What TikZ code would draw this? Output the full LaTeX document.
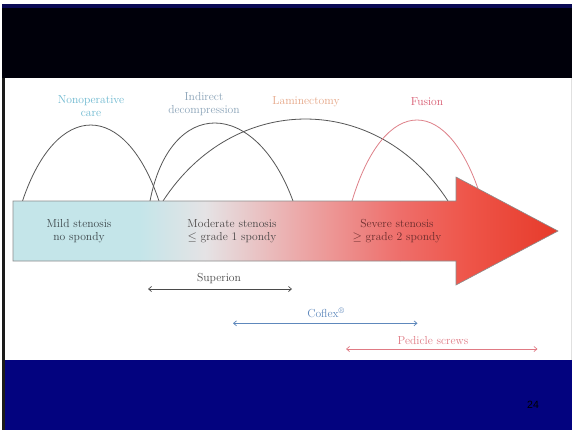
\documentclass[tikz,border=0pt]{standalone}
\usepackage{fontspec}
\newfontfamily\arialf{Liberation Sans}
\usetikzlibrary{arrows.meta}
\definecolor{topnavy}{HTML}{0A0A55}
\definecolor{topblack}{HTML}{00000A}
\definecolor{botnavy}{HTML}{03037F}
\definecolor{leftline}{HTML}{1A1A1A}
\definecolor{cNonop}{HTML}{6CB8D0}
\definecolor{cIndir}{HTML}{8AA3B8}
\definecolor{cLamin}{HTML}{E6A686}
\definecolor{cFusion}{HTML}{D85A70}
\definecolor{cArc}{HTML}{555555}
\definecolor{cFusArc}{HTML}{DE8088}
\definecolor{cSup}{HTML}{4A4A4A}
\definecolor{cCof}{HTML}{5E88BC}
\definecolor{cPed}{HTML}{E07A84}
\definecolor{g1}{HTML}{C4E5E9}
\definecolor{g3}{HTML}{E5E3E5}
\definecolor{g4}{HTML}{ECA8A8}
\definecolor{g5}{HTML}{EE6E6A}
\definecolor{g6}{HTML}{EE5448}
\definecolor{g7}{HTML}{E63A2A}
\definecolor{cMild}{HTML}{3C464A}
\definecolor{cMod}{HTML}{4A4646}
\definecolor{cSev}{HTML}{6B2C2C}
\tikzset{
  lab/.style={font=\fontsize{11.6}{13.4}\selectfont\addfontfeatures{FakeBold=0.35}, align=center, inner sep=0pt},
  arcline/.style={draw=cArc, line width=0.8pt},
  dbl/.style={line width=0.7pt, {Straight Barb[length=3pt,width=5pt]}-{Straight Barb[length=3pt,width=5pt]}}
}
\begin{document}
\begin{tikzpicture}[x=1pt,y=-1pt]
\useasboundingbox (0,0) rectangle (572,432);
\fill[white] (0,0) rectangle (572,432);
% slide frame
\fill[topnavy] (2,4) rectangle (572,7.5);
\fill[topblack] (2,7.5) rectangle (572,78);
\fill[botnavy] (4,360) rectangle (572,430);
\fill[leftline] (2,78) rectangle (4.5,430);
\fill[black!12] (570.5,78) rectangle (571.5,360);

% top labels
\node[lab, text=cNonop] (nonop) at (91,106) {Nonoperative\\care};
\node[lab, text=cIndir] (indir) at (204,104) {Indirect\\decompression};
\node[lab, text=cLamin] (lamin) at (306,102) {Laminectomy};
\node[lab, text=cFusion] (fusion) at (427,102) {Fusion};

% arc end points
\coordinate (a1L) at (22.5,201); \coordinate (a1R) at (159,201);
\coordinate (a2L) at (150,201);  \coordinate (a2R) at (293,201);
\coordinate (a3L) at (163,201);  \coordinate (a3R) at (448,201);
\coordinate (a4L) at (352,201);  \coordinate (a4R) at (482,201);

\draw[arcline] (a1L) .. controls +(34,-101.3) and +(-34,-101.3) .. (a1R);
\draw[arcline] (a2L) .. controls +(20,-104) and +(-38,-104) .. (a2R);
\draw[arcline] (a3L) .. controls +(71,-109.3) and +(-71,-109.3) .. (a3R);
\draw[draw=cFusArc, line width=0.8pt] (a4L) .. controls +(32.5,-108) and +(-32.5,-108) .. (a4R);

% big arrow
\def\arrowpath{(13,201) -- (456,201) -- (456,177) -- (558,231) -- (456,285) -- (456,261) -- (13,261) -- cycle}
\begin{scope}
\clip \arrowpath;
\fill[g1] (10,170) rectangle (140.5,290);
\shade[left color=g1, right color=g3] (140,170) rectangle (205.5,290);
\shade[left color=g3, right color=g4] (205,170) rectangle (300.5,290);
\shade[left color=g4, right color=g5] (300,170) rectangle (400.5,290);
\shade[left color=g5, right color=g6] (400,170) rectangle (470.5,290);
\shade[left color=g6, right color=g7] (470,170) rectangle (560,290);
\end{scope}
\draw[draw=black!45, line width=0.6pt, line join=miter] \arrowpath;

\node[lab, text=cMild] (mild) at (79,231) {Mild stenosis\\no spondy};
\node[lab, text=cMod] (mod) at (232,231) {Moderate stenosis\\$\le$ grade 1 spondy};
\node[lab, text=cSev] (sev) at (397,231) {Severe stenosis\\$\ge$ grade 2 spondy};

% device ranges
\coordinate (supL) at (148,289); \coordinate (supR) at (292,289);
\coordinate (cofL) at (233,323.3); \coordinate (cofR) at (417.5,323.3);
\coordinate (pedL) at (346,349); \coordinate (pedR) at (537.5,349);
\draw[dbl, cSup] (supL) -- (supR);
\draw[dbl, cCof] (cofL) -- (cofR);
\draw[dbl, cPed] (pedL) -- (pedR);
\node[lab, text=cSup] (suplab) at (219,279) {Superion};
\node[lab, text=cCof] (coflab) at (326,313) {Coflex\textsuperscript{\textregistered}};
\node[lab, text=cPed] (pedlab) at (433,341) {Pedicle screws};

\node[font=\arialf\fontsize{10.5}{12}\selectfont, text=black, inner sep=0pt] (pnum) at (533,405) {24};
\end{tikzpicture}
\end{document}
